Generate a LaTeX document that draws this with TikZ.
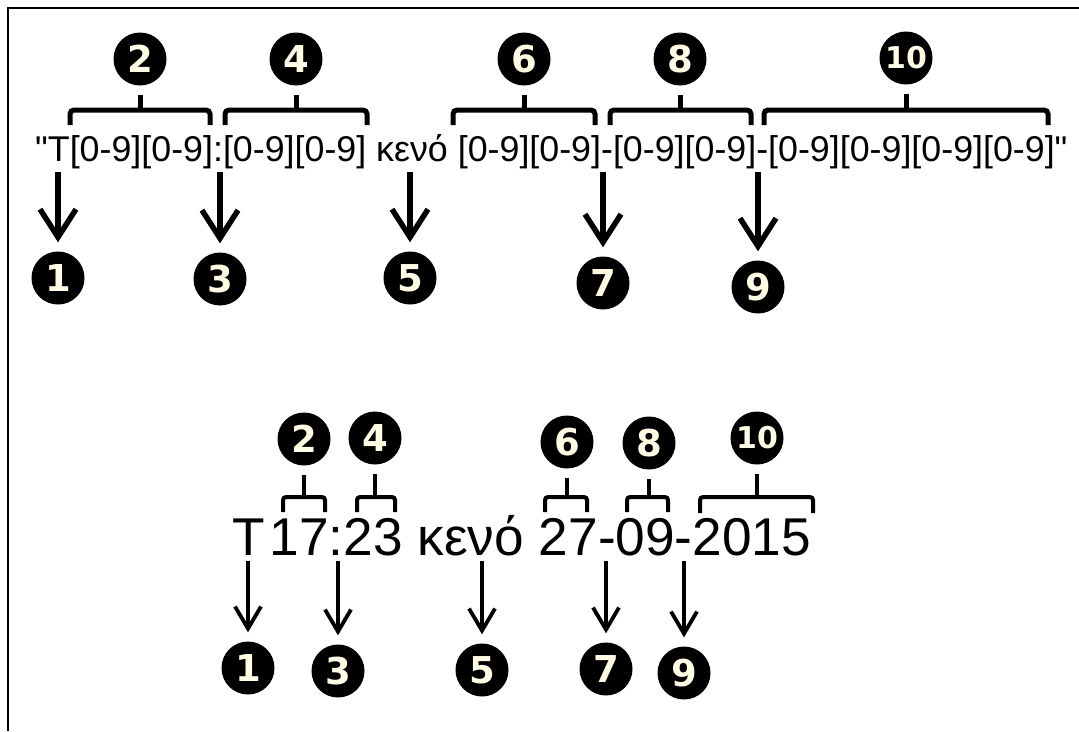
\documentclass[tikz,border=0pt]{standalone}
\usepackage{fontspec}
\setmainfont{Liberation Sans}[Ligatures=TeXOff]
\newfontfamily\numfont{DejaVu Sans}
\usetikzlibrary{arrows.meta}
\definecolor{numtext}{HTML}{FFFBE4}
\begin{document}
\begin{tikzpicture}[x=1pt,y=-1pt,
  txtA/.style={inner sep=0pt, anchor=base west, font=\fontsize{35.8}{40}\selectfont},
  txtB/.style={inner sep=0pt, anchor=base west, font=\fontsize{53.2}{60}\selectfont},
  num/.style={circle, fill=black, inner sep=0pt, minimum size=53pt, text=numtext,
    font=\numfont\bfseries\fontsize{37}{37}\selectfont},
  numsm/.style={num, font=\numfont\bfseries\fontsize{30}{30}\selectfont},
  brkA/.style={line width=5pt, rounded corners=4pt},
  brkB/.style={line width=4pt, rounded corners=3pt},
  stemA/.style={line width=5pt, shorten >=9pt},
  stemB/.style={line width=4pt, shorten >=9pt},
  arrA/.style={line width=5.5pt, shorten >=9pt, -{Straight Barb[length=28pt,width=36pt]}},
  arrB/.style={line width=3.8pt, shorten >=9pt, -{Straight Barb[length=22pt,width=26pt]}},
  frame/.style={line width=2pt}
]
\useasboundingbox (0,0) rectangle (1079,731);
\fill[white] (0,0) rectangle (1079,731);
\draw[frame] (8,731) -- (8,8) -- (1079,8);

% ---------- top row ----------
\node[txtA] (toptext) at (35,161) {"T[0-9][0-9]:[0-9][0-9] κενό [0-9][0-9]-[0-9][0-9]-[0-9][0-9][0-9][0-9]"};

\node[num] (a2) at (140,59) {2};
\node[num] (a4) at (296,59) {4};
\node[num] (a6) at (524,59) {6};
\node[num] (a8) at (680,59) {8};
\node[numsm] (a10) at (906,58) {10};

\draw[brkA] (70,125) -- (70,110) -- (210,110) -- (210,125);
\draw[brkA] (225,125) -- (225,110) -- (367,110) -- (367,125);
\draw[brkA] (453,125) -- (453,110) -- (595,110) -- (595,125);
\draw[brkA] (610,125) -- (610,110) -- (751,110) -- (751,125);
\draw[brkA] (764,125) -- (764,110) -- (1048,110) -- (1048,125);
\coordinate (ba2) at (140,110);
\coordinate (ba4) at (296,110);
\coordinate (ba6) at (524,110);
\coordinate (ba8) at (680,110);
\coordinate (ba10) at (906,110);
\draw[stemA] (ba2) -- (a2);
\draw[stemA] (ba4) -- (a4);
\draw[stemA] (ba6) -- (a6);
\draw[stemA] (ba8) -- (a8);
\draw[stemA] (ba10) -- (a10);

\node[num] (a1) at (58,278) {1};
\node[num] (a3) at (220,279) {3};
\node[num] (a5) at (410,278) {5};
\node[num] (a7) at (603,283) {7};
\node[num] (a9) at (758,287) {9};
\coordinate (sa1) at (58,172);
\coordinate (sa3) at (220,172);
\coordinate (sa5) at (410,172);
\coordinate (sa7) at (603,172);
\coordinate (sa9) at (758,172);
\draw[arrA] (sa1) -- (a1);
\draw[arrA] (sa3) -- (a3);
\draw[arrA] (sa5) -- (a5);
\draw[arrA] (sa7) -- (a7);
\draw[arrA] (sa9) -- (a9);

% ---------- bottom row ----------
\node[txtB] (bottext) at (232,555) {T\hspace{5pt}17:23 κενό 27-09-2015};

\node[num] (b2) at (304,439) {2};
\node[num] (b4) at (375,438) {4};
\node[num] (b6) at (567,442) {6};
\node[num] (b8) at (649,443) {8};
\node[numsm] (b10) at (757,438) {10};

\draw[brkB] (283,512) -- (283,497) -- (325,497) -- (325,512);
\draw[brkB] (357,512) -- (357,497) -- (395,497) -- (395,512);
\draw[brkB] (545,512) -- (545,497) -- (587,497) -- (587,512);
\draw[brkB] (627,512) -- (627,497) -- (668,497) -- (668,512);
\draw[brkB] (700,513) -- (700,497) -- (813,497) -- (813,513);
\coordinate (bb2) at (304,497);
\coordinate (bb4) at (375,497);
\coordinate (bb6) at (567,497);
\coordinate (bb8) at (649,497);
\coordinate (bb10) at (757,497);
\draw[stemB] (bb2) -- (b2);
\draw[stemB] (bb4) -- (b4);
\draw[stemB] (bb6) -- (b6);
\draw[stemB] (bb8) -- (b8);
\draw[stemB] (bb10) -- (b10);

\node[num] (b1) at (248,668) {1};
\node[num] (b3) at (338,671) {3};
\node[num] (b5) at (482,670) {5};
\node[num] (b7) at (606,669) {7};
\node[num] (b9) at (684,673) {9};
\coordinate (sb1) at (248,561);
\coordinate (sb3) at (338,561);
\coordinate (sb5) at (482,561);
\coordinate (sb7) at (606,561);
\coordinate (sb9) at (684,561);
\draw[arrB] (sb1) -- (b1);
\draw[arrB] (sb3) -- (b3);
\draw[arrB] (sb5) -- (b5);
\draw[arrB] (sb7) -- (b7);
\draw[arrB] (sb9) -- (b9);
\end{tikzpicture}
\end{document}
